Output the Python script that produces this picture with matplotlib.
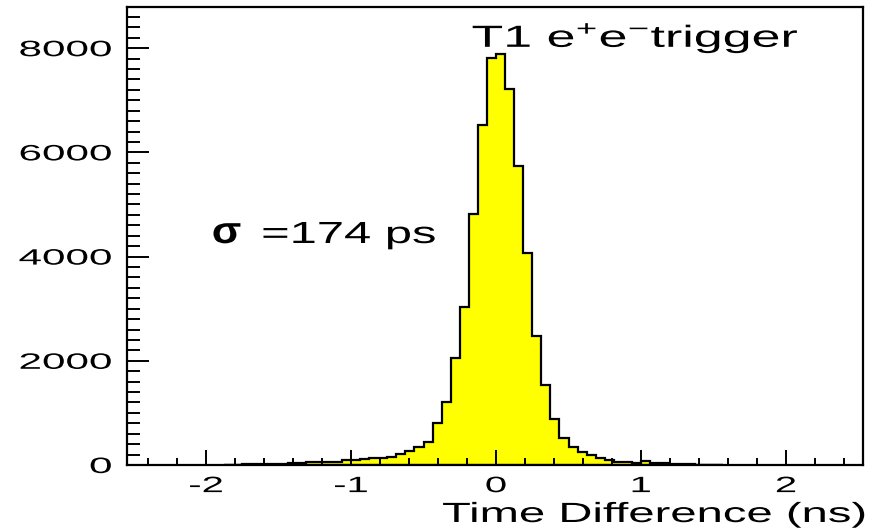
import matplotlib.pyplot as plt
import matplotlib.patheffects as pe
from matplotlib.transforms import Affine2D
import numpy as np

# histogram of the time difference, bin width 0.0625 ns, first bin starts at -1.875 ns
bin_lo = -1.875
bin_width = 0.0625
counts = [8, 8, 10, 10, 12, 12,
          15, 40, 45, 50, 52, 58, 60, 88, 92, 118, 125, 140, 150, 220, 265, 346, 440, 808,
          1212, 2058, 3038, 4808, 6519, 7813, 7879, 7212, 5731, 4077, 2481, 1538, 880, 515,
          355, 245, 192, 140, 96, 60, 58, 45, 75, 45, 42, 25, 10, 10, 8, 8, 8]

x_ticks = [-2, -1, 0, 1, 2]
y_ticks = [0, 2000, 4000, 6000, 8000]
title_text = "T1 e$^{+}$e$^{-}$trigger"
sigma_text = "=174 ps"
x_label = "Time Difference (ns)"


class Widen(pe.AbstractPathEffect):
    # the reference is stretched sideways, so the glyphs get stretched as well
    def __init__(self, sx, anchor="center"):
        super().__init__()
        self.sx = sx
        self.anchor = anchor

    def draw_path(self, renderer, gc, tpath, affine, rgbFace=None):
        box = tpath.get_extents(affine)
        x0 = {"left": box.x0, "center": (box.x0 + box.x1) / 2, "right": box.x1}[self.anchor]
        affine = affine + Affine2D().translate(-x0, 0).scale(self.sx, 1).translate(x0, 0)
        renderer.draw_path(gc, tpath, affine, rgbFace)


plt.rcParams["font.family"] = ["Liberation Sans", "DejaVu Sans"]
plt.rcParams["axes.unicode_minus"] = False
plt.rcParams["mathtext.fontset"] = "custom"
plt.rcParams["mathtext.rm"] = "Liberation Sans"
plt.rcParams["mathtext.it"] = "Liberation Sans:italic"
plt.rcParams["mathtext.bf"] = "Liberation Sans:bold"

edges = bin_lo + bin_width * np.arange(len(counts) + 1)
centers = (edges[:-1] + edges[1:]) / 2

fig = plt.figure(figsize=(8.74, 5.30), dpi=100)
ax = fig.add_axes([127 / 874, 65 / 530, 736 / 874, 458 / 530])

ax.hist(centers, bins=edges, weights=counts, histtype="stepfilled",
        facecolor="#ffff00", edgecolor="black", linewidth=1.6)

ax.set_xlim(-2.545, 2.531)
ax.set_ylim(0, 8790)

ax.set_xticks(x_ticks)
ax.set_xticks(np.arange(-2.4, 2.5, 0.2), minor=True)
ax.set_yticks(y_ticks)
ax.set_yticks(np.arange(0, 8790, 200), minor=True)

for s in ax.spines.values():
    s.set_linewidth(1.6)
ax.tick_params(which="both", direction="in", top=False, right=False, width=1.4, labelsize=16)
ax.tick_params(axis="x", which="major", length=11, pad=8)
ax.tick_params(axis="x", which="minor", length=5)
ax.tick_params(axis="y", which="major", length=16, pad=11)
ax.tick_params(axis="y", which="minor", length=9)

for t in ax.xaxis.get_major_ticks():
    t.label1.set_path_effects([Widen(1.8, "center")])
for t in ax.yaxis.get_major_ticks():
    t.label1.set_path_effects([Widen(1.9, "right")])

fig.text(866 / 874, 8 / 530, x_label, ha="right", va="baseline", fontsize=20,
         path_effects=[Widen(1.7, "right")])
fig.text(472 / 874, 1 - 47 / 530, title_text, ha="left", va="baseline", fontsize=22,
         path_effects=[Widen(1.7, "left")])
fig.text(212 / 874, 1 - 243 / 530, "σ", ha="left", va="baseline", fontsize=27,
         fontweight="bold", path_effects=[Widen(1.15, "left")])
fig.text(262 / 874, 1 - 243 / 530, sigma_text, ha="left", va="baseline", fontsize=22,
         path_effects=[Widen(1.6, "left")])

fig.savefig("out.png", dpi=100)
